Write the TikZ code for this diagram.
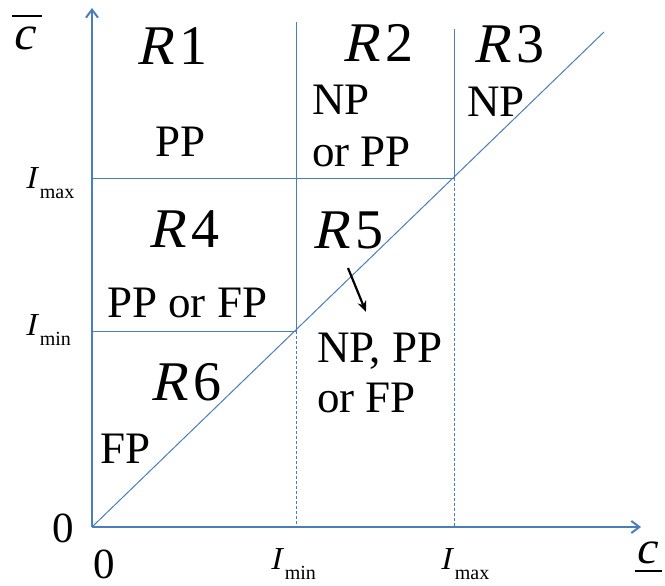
\documentclass[tikz,border=0pt]{standalone}
\usepackage{fontspec}
\setmainfont{Liberation Serif}
\newfontfamily\slantserif{Liberation Serif}[FakeSlant=0.22]
\usetikzlibrary{arrows.meta,positioning}
\definecolor{axisblue}{HTML}{4A7EBB}
\newcommand\regname[1]{{\slantserif R}\kern6pt#1}
\newcommand\limlab[1]{{\slantserif I}\kern4pt\raisebox{-10pt}{\fontsize{20}{20}\selectfont #1}}

\begin{document}
\begin{tikzpicture}[x=1pt,y=-1pt,
  txt/.style={anchor=base west,inner sep=0pt,font=\fontsize{45}{50}\selectfont},
  reg/.style={txt,font=\fontsize{56}{60}\selectfont},
  lim/.style={txt,font=\fontsize{32}{36}\selectfont},
  zero/.style={txt,font=\fontsize{43}{46}\selectfont},
  axis/.style={draw=axisblue,line width=2pt,-{Straight Barb[length=8pt,width=12pt,line width=2pt]}},
  bound/.style={draw=axisblue,line width=1pt},
  proj/.style={bound,dash pattern=on 3pt off 2pt},
  arr/.style={-{Stealth[length=11pt,width=9pt]},line width=2.2pt}]
  \useasboundingbox (0,0) rectangle (665,586);
  % corner points of the regions
  \coordinate (o) at (92,527);
  \coordinate (ye) at (92,8);
  \coordinate (xe) at (641,527);
  \coordinate (ymx) at (92,178);
  \coordinate (ymn) at (92,331);
  \coordinate (p) at (296,331);
  \coordinate (q) at (454,178);
  \coordinate (xmn) at (296,527);
  \coordinate (xmx) at (454,527);
  \coordinate (t1) at (296,22);
  \coordinate (t2) at (454,29);
  \coordinate (de) at (604,32);
  \draw[bound] (o)--(de);
  \draw[bound] (ymx)--(q)--(t2); \draw[bound] (ymn)--(p)--(t1);
  \draw[proj] (p)--(xmn); \draw[proj] (q)--(xmx);
  \draw[axis] (o)--(ye); \draw[axis] (o)--(xe);
  % region names and labels
  \node[reg] (r1) at (136,65) {\regname{1}};
  \node[reg] (r2) at (342,62) {\regname{2}};
  \node[reg] (r3) at (473,63) {\regname{3}};
  \node[reg] (r4) at (148,247) {\regname{4}};
  \node[reg] (r5) at (312,248) {\regname{5}};
  \node[reg] (r6) at (150,400) {\regname{6}};
  \node[txt] (pp1) at (155,157) {PP};
  \node[txt] (np2) at (312,115) {NP};
  \node[txt] (or2) at (312,167) {or PP};
  \node[txt] (np3) at (467,117) {NP};
  \node[txt] (pf4) at (107,317) {PP or FP};
  \node[txt] (np5) at (317,362) {NP, PP};
  \node[txt] (or5) at (317,412) {or FP};
  \node[txt] (fp6) at (100,463) {FP};
  \coordinate (a1) at (348,268);
  \coordinate (a2) at (366,312);
  \draw[arr] (a1)--(a2);
  % axis labels
  \node[lim] (imxl) at (25,188) {\limlab{max}};
  \node[lim] (imnl) at (25,335) {\limlab{min}};
  \node[lim] (imnb) at (270,569) {\limlab{min}};
  \node[lim] (imxb) at (440,569) {\limlab{max}};
  \node[zero] (zy) at (52,542) {0};
  \node[zero] (zx) at (93,578) {0};
  \node[txt,font=\fontsize{48}{50}\selectfont] (cb) at (12,50) {\rlap{\raisebox{33pt}{\rule{30pt}{2pt}}}{\slantserif c}};
  \node[txt,font=\fontsize{46}{50}\selectfont] (cu) at (635,563) {\rlap{\raisebox{-9pt}{\rule{27pt}{2pt}}}{\slantserif c}};
\end{tikzpicture}
\end{document}
